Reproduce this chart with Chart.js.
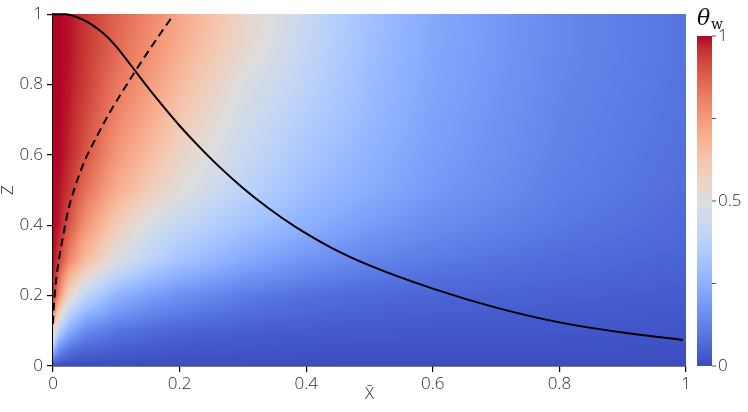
<!DOCTYPE html>
<html>
<head>
<meta charset="utf-8">
<script src="https://cdn.jsdelivr.net/npm/chart.js@4.4.1/dist/chart.umd.min.js"></script>
<style>
  html, body { margin: 0; padding: 0; background: #fff; }
  #wrap { width: 748px; height: 412px; }
</style>
</head>
<body>
<div id="wrap"><canvas id="fieldChart" width="748" height="412"></canvas></div>
<script>
// field samples (rows go with gridZ, columns with gridX)
var gridX = [0, 0.01, 0.025, 0.05, 0.1, 0.15, 0.2, 0.3, 0.4, 0.5, 0.6, 0.8, 1.0];
var gridZ = [0, 0.05, 0.1, 0.2, 0.3, 0.4, 0.5, 0.6, 0.7, 0.8, 0.9, 1.0];
var thetaRows = [
  [0, 0, 0, 0, 0, 0, 0, 0, 0, 0, 0, 0, 0],
  [0.3, 0.16, 0.1, 0.065, 0.045, 0.035, 0.028, 0.022, 0.018, 0.015, 0.013, 0.011, 0.01],
  [0.6, 0.36, 0.24, 0.15, 0.095, 0.07, 0.055, 0.042, 0.035, 0.03, 0.028, 0.024, 0.02],
  [0.97, 0.77, 0.55, 0.4, 0.26, 0.2, 0.16, 0.11, 0.08, 0.065, 0.055, 0.045, 0.035],
  [1, 0.93, 0.8, 0.66, 0.49, 0.39, 0.32, 0.23, 0.17, 0.13, 0.105, 0.072, 0.05],
  [1, 0.98, 0.9, 0.77, 0.6, 0.48, 0.41, 0.32, 0.25, 0.19, 0.15, 0.1, 0.065],
  [1, 0.99, 0.95, 0.85, 0.7, 0.6, 0.51, 0.39, 0.3, 0.24, 0.185, 0.115, 0.075],
  [1, 1, 0.97, 0.9, 0.76, 0.66, 0.56, 0.43, 0.33, 0.26, 0.2, 0.125, 0.08],
  [1, 1, 0.98, 0.92, 0.8, 0.71, 0.61, 0.46, 0.36, 0.28, 0.21, 0.13, 0.085],
  [1, 1, 0.985, 0.94, 0.83, 0.75, 0.66, 0.49, 0.39, 0.29, 0.22, 0.135, 0.088],
  [1, 1, 0.99, 0.95, 0.86, 0.78, 0.7, 0.54, 0.41, 0.3, 0.225, 0.14, 0.09],
  [1, 1, 0.99, 0.95, 0.87, 0.8, 0.72, 0.56, 0.42, 0.31, 0.23, 0.14, 0.09]
];

// solid curve
var solidX = [0, 0.02, 0.04, 0.06, 0.08, 0.1, 0.12, 0.14, 0.16, 0.18, 0.2, 0.23, 0.26, 0.3, 0.34, 0.38, 0.44, 0.5, 0.6, 0.7, 0.8, 0.9, 0.995];
var solidZ = [1, 1, 0.99, 0.972, 0.945, 0.908, 0.862, 0.815, 0.769, 0.725, 0.683, 0.625, 0.571, 0.506, 0.449, 0.399, 0.336, 0.286, 0.22, 0.166, 0.124, 0.095, 0.074];

// dashed curve
var dashedX = [0, 0.001, 0.003, 0.006, 0.01, 0.016, 0.025, 0.035, 0.05, 0.07, 0.09, 0.11, 0.13, 0.15, 0.17, 0.19];
var dashedZ = [0.12, 0.16, 0.21, 0.26, 0.31, 0.37, 0.45, 0.51, 0.583, 0.655, 0.722, 0.781, 0.838, 0.893, 0.946, 0.997];

var xTicks = [0, 0.2, 0.4, 0.6, 0.8, 1];
var zTicks = [0, 0.2, 0.4, 0.6, 0.8, 1];
var barTicks = [0, 0.25, 0.5, 0.75, 1];
var barLabels = ["0", "", "0.5", "", "1"];

// coolwarm colour map
var coolwarm = [
  [59,76,192],[68,90,204],[77,104,215],[87,117,225],[98,130,234],[108,142,241],
  [119,154,247],[130,165,251],[141,176,254],[152,185,255],[163,194,255],[174,201,253],
  [184,208,249],[194,213,244],[204,217,238],[213,219,230],[221,221,221],[229,216,209],
  [236,211,197],[241,204,185],[245,196,173],[247,187,160],[247,177,148],[247,166,135],
  [244,154,123],[241,141,111],[236,127,99],[229,112,88],[222,96,77],[213,80,66],
  [203,62,56],[192,40,47],[180,4,38]
];

function colorFor(v) {
  v = Math.max(0, Math.min(1, v));
  var t = v * (coolwarm.length - 1);
  var i = Math.min(Math.floor(t), coolwarm.length - 2);
  var f = t - i, a = coolwarm[i], b = coolwarm[i + 1];
  return [a[0] + (b[0] - a[0]) * f, a[1] + (b[1] - a[1]) * f, a[2] + (b[2] - a[2]) * f];
}

function findCell(arr, v) {
  if (v <= arr[0]) return 0;
  for (var i = 0; i < arr.length - 1; i++) {
    if (v <= arr[i + 1]) return i;
  }
  return arr.length - 2;
}

function sampleField(x, z) {
  var i = findCell(gridX, x), j = findCell(gridZ, z);
  var fx = (x - gridX[i]) / (gridX[i + 1] - gridX[i]);
  var fz = (z - gridZ[j]) / (gridZ[j + 1] - gridZ[j]);
  fx = Math.max(0, Math.min(1, fx));
  fz = Math.max(0, Math.min(1, fz));
  var v00 = thetaRows[j][i], v10 = thetaRows[j][i + 1];
  var v01 = thetaRows[j + 1][i], v11 = thetaRows[j + 1][i + 1];
  return (v00 * (1 - fx) + v10 * fx) * (1 - fz) + (v01 * (1 - fx) + v11 * fx) * fz;
}

function toPoints(xs, zs) {
  return xs.map(function (x, k) { return { x: x, y: zs[k] }; });
}

var labelFont = { family: "'Open Sans', sans-serif", size: 17, weight: "300" };
var textColor = "#2b2b2b";

var heatmapPlugin = {
  id: "heatmap",
  beforeDatasetsDraw: function (chart) {
    var area = chart.chartArea, xs = chart.scales.x, ys = chart.scales.y;
    var left = Math.round(area.left), top = Math.round(area.top);
    var w = Math.round(area.right) - left, h = Math.round(area.bottom) - top;
    var off = document.createElement("canvas");
    off.width = w; off.height = h;
    var octx = off.getContext("2d");
    var img = octx.createImageData(w, h);
    for (var r = 0; r < h; r++) {
      var z = ys.getValueForPixel(top + r + 0.5);
      for (var c = 0; c < w; c++) {
        var x = xs.getValueForPixel(left + c + 0.5);
        var col = colorFor(sampleField(x, z));
        var p = (r * w + c) * 4;
        img.data[p] = col[0]; img.data[p + 1] = col[1]; img.data[p + 2] = col[2]; img.data[p + 3] = 255;
      }
    }
    octx.putImageData(img, 0, 0);
    chart.ctx.drawImage(off, left, top);
  }
};

var colorbarPlugin = {
  id: "colorbar",
  afterDraw: function (chart) {
    var ctx = chart.ctx;
    var bx = 697, bw = 15, by0 = 366, by1 = 36;
    ctx.save();
    for (var y = by1; y < by0; y++) {
      var col = colorFor((by0 - y - 0.5) / (by0 - by1));
      ctx.fillStyle = "rgb(" + col.map(Math.round).join(",") + ")";
      ctx.fillRect(bx, y, bw, 1);
    }
    ctx.strokeStyle = "#555";
    ctx.lineWidth = 1;
    ctx.fillStyle = textColor;
    ctx.font = "300 17px 'Open Sans', sans-serif";
    ctx.textBaseline = "middle";
    ctx.textAlign = "left";
    barTicks.forEach(function (t, k) {
      var y = by0 - t * (by0 - by1);
      ctx.beginPath();
      ctx.moveTo(bx + bw, y);
      ctx.lineTo(bx + bw + 4, y);
      ctx.stroke();
      if (barLabels[k]) ctx.fillText(barLabels[k], bx + bw + 6, y);
    });
    ctx.font = "italic 22px 'DejaVu Serif', serif";
    ctx.textBaseline = "alphabetic";
    ctx.fillStyle = "#111";
    ctx.fillText("\u03b8", 697, 25);
    ctx.font = "14px 'DejaVu Serif', serif";
    ctx.fillText("w", 711, 29);
    ctx.restore();
  }
};

new Chart(document.getElementById("fieldChart"), {
  type: "scatter",
  data: {
    datasets: [
      {
        label: "solid",
        data: toPoints(solidX, solidZ),
        showLine: true,
        borderColor: "#000",
        borderWidth: 2,
        pointRadius: 0,
        cubicInterpolationMode: "monotone",
        clip: 4
      },
      {
        label: "dashed",
        data: toPoints(dashedX, dashedZ),
        showLine: true,
        borderColor: "#000",
        borderWidth: 2,
        borderDash: [8, 5],
        pointRadius: 0,
        cubicInterpolationMode: "monotone",
        clip: 4
      }
    ]
  },
  options: {
    responsive: false,
    animation: false,
    events: [],
    layout: { padding: { left: 0, top: 9, right: 62, bottom: 0 } },
    plugins: { legend: { display: false }, tooltip: { enabled: false } },
    scales: {
      x: {
        type: "linear",
        min: 0,
        max: 1,
        afterBuildTicks: function (s) { s.ticks = xTicks.map(function (v) { return { value: v }; }); },
        afterFit: function (s) { s.height = 46; },
        ticks: { color: textColor, font: labelFont, padding: 2, maxRotation: 0, callback: function (v) { return String(v); } },
        grid: { drawOnChartArea: false, tickLength: 6, color: "#000", lineWidth: 1.2 },
        border: { color: "#000", width: 1.5 },
        title: { display: true, text: "X\u0304", color: textColor, font: labelFont, padding: { top: 0, bottom: 8 } }
      },
      y: {
        type: "linear",
        min: 0,
        max: 1,
        afterBuildTicks: function (s) { s.ticks = zTicks.map(function (v) { return { value: v }; }); },
        afterFit: function (s) { s.width = 53; },
        ticks: { color: textColor, font: labelFont, padding: 4, callback: function (v) { return String(v); } },
        grid: { drawOnChartArea: false, tickLength: 6, color: "#000", lineWidth: 1.2 },
        border: { color: "#000", width: 1.5 },
        title: { display: true, text: "Z\u0304", color: textColor, font: { family: labelFont.family, size: 17, weight: "300", lineHeight: 1 }, padding: { top: 0, bottom: 0 } }
      }
    }
  },
  plugins: [heatmapPlugin, colorbarPlugin]
});
</script>
</body>
</html>
